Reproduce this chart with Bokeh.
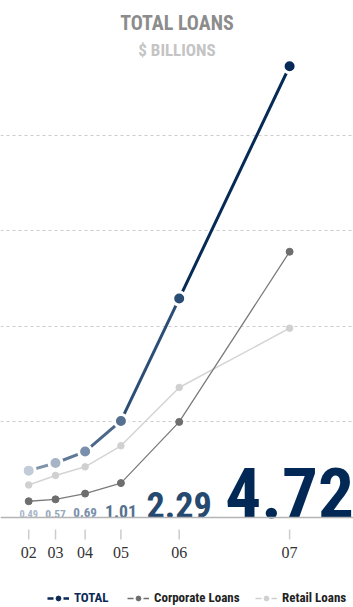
from bokeh.plotting import figure
from bokeh.models import ColumnDataSource, Label, Span, Grid, FixedTicker, Legend, LegendItem
from bokeh.core.properties import value
from bokeh.embed import file_html
from bokeh.resources import INLINE

# ---------------- data ----------------
years = ["02", "03", "04", "05", "06", "07"]
total = [0.49, 0.57, 0.69, 1.01, 2.29, 4.72]
corporate = [0.17, 0.19, 0.25, 0.36, 1.00, 2.78]
retail = [0.34, 0.44, 0.53, 0.75, 1.36, 1.98]
total_labels = ["0.49", "0.57", "0.69", "1.01", "2.29", "4.72"]
grid_values = [1, 2, 3, 4]
title_text = "TOTAL LOANS"
subtitle_text = "$ BILLIONS"
legend_names = ["TOTAL", "Corporate Loans", "Retail Loans"]

# ---------------- styles ----------------
COND = "'Roboto Condensed', 'Liberation Sans Narrow', 'DejaVu Sans Condensed', sans-serif"
SERIF = "'Liberation Serif', 'DejaVu Serif', serif"
point_colors = ["#c2ccd8", "#a6b4c6", "#7a8fab", "#56718f", "#2a4d74", "#062b58"]
label_colors = ["#a8b7c9", "#97a8bc", "#7a8fab", "#56718f", "#26496f", "#022955"]
seg_colors = ["#7f92aa", "#5f7898", "#4b6789", "#2c4d75", "#052a55"]
CORP_LINE, CORP_DOT = "#7b7b7b", "#6e6e6e"
RET_LINE, RET_DOT = "#d4d4d4", "#d0d0d0"
NAVY = "#0b2a55"

W, H = 353, 607
X_SCALE = 28.1      # px per slot unit
Y_SCALE = 95.6      # px per $bn
BASE_PX = 517       # px from figure top to the zero line
SLOT_GAP = 0.424    # gap added to each year's slot (slot width grows with the total)

# slot layout: each year's slot is as wide as its total plus a gap
xs = []
acc = 0.0
for v in total:
    w = SLOT_GAP + v
    xs.append(acc + w / 2)
    acc += w

x_start = xs[0] - 28.2 / X_SCALE
x_end = x_start + W / X_SCALE
y_end = BASE_PX / Y_SCALE
y_start = y_end - H / Y_SCALE

p = figure(width=W, height=H, x_range=(x_start, x_end), y_range=(y_start, y_end),
           x_axis_type=None, y_axis_type=None, toolbar_location=None,
           output_backend="svg", min_border=0, outline_line_color=None,
           background_fill_color="white", border_fill_color="white")

p.add_layout(Grid(dimension=1, ticker=FixedTicker(ticks=grid_values),
                  grid_line_color="#cccccc", grid_line_dash="3 3", grid_line_width=1))
p.add_layout(Span(location=0, dimension="width", line_color="#b4b4b4", line_width=1.5))

# big value labels (font size grows with the value), standing on the zero line
sizes = [3.2 + 14.4 * v for v in total]
label_src = ColumnDataSource(dict(
    x=xs, y=[0] * len(xs), text=total_labels,
    size=[f"{s:.1f}px" for s in sizes], yoff=[-0.35 * s for s in sizes],
    color=label_colors))
p.text(x="x", y="y", text="text", text_font_size="size", text_color="color",
       y_offset="yoff", text_align="center", text_baseline="middle",
       text_font=value(COND), text_font_style="bold", source=label_src)

# ticks and tick labels
p.segment(x0=xs, y0=[-12 / Y_SCALE] * len(xs), x1=xs, y1=[-22 / Y_SCALE] * len(xs),
          line_color="#cccccc", line_width=1.5)
p.text(x=xs, y=[-35 / Y_SCALE] * len(xs), text=years, text_font=value(SERIF),
       text_font_size="16px", text_color="#333333", text_align="center",
       text_baseline="middle")

# retail
p.line(xs, retail, line_color=RET_LINE, line_width=1.5)
p.scatter(xs, retail, size=6.5, color=RET_DOT)
# corporate
p.line(xs, corporate, line_color=CORP_LINE, line_width=1.3)
p.scatter(xs, corporate, size=7, color=CORP_DOT)
# total
p.segment(x0=xs[:-1], y0=total[:-1], x1=xs[1:], y1=total[1:], line_color=seg_colors, line_width=3)
p.scatter(xs, total, size=13, fill_color=point_colors, line_color="white", line_width=3)

# titles
xc = (x_start + x_end) / 2
p.add_layout(Label(x=xc, y=y_end - 22 / Y_SCALE, text=title_text, text_align="center",
                   text_baseline="middle", text_font=COND, text_font_style="bold",
                   text_font_size="20px", text_color="#8c8c8c"))
p.add_layout(Label(x=xc, y=y_end - 49 / Y_SCALE, text=subtitle_text, text_align="center",
                   text_baseline="middle", text_font=COND, text_font_style="bold",
                   text_font_size="17px", text_color="#c4c4c4"))

# legends
nan = float("nan")
def add_legend(name, color, lw, x, text_color):
    src = ColumnDataSource(dict(x=[nan], y=[nan]))
    r_line = p.line(x="x", y="y", source=src, line_color=color, line_width=lw, line_dash="6 10")
    r_dot = p.scatter(x="x", y="y", source=src, size=6, color=color)
    leg = Legend(items=[LegendItem(label=name, renderers=[r_line, r_dot])],
                 location=(x, 2), padding=0, margin=0, border_line_alpha=0,
                 background_fill_alpha=0, glyph_width=22, glyph_height=12,
                 label_height=14, label_standoff=5, label_text_font=COND,
                 label_text_font_style="bold", label_text_font_size="13px",
                 label_text_color=text_color)
    p.add_layout(leg, "center")

add_legend(legend_names[0], NAVY, 2.5, 47, NAVY)
add_legend(legend_names[1], CORP_DOT, 1.5, 127, "#222222")
add_legend(legend_names[2], RET_DOT, 1.5, 255, "#222222")

open("out.html", "w").write(file_html(p, INLINE))
